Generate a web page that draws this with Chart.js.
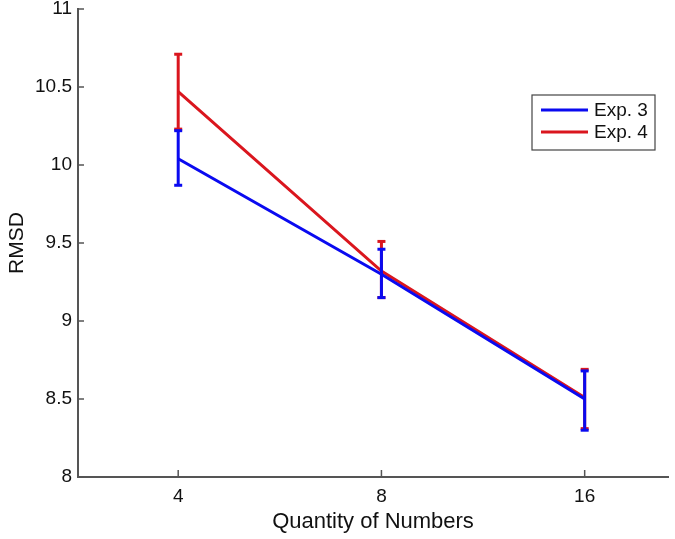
<!DOCTYPE html>
<html lang="en">
<head>
    <meta charset="UTF-8">
    <title>RMSD vs Quantity of Numbers</title>
    <script src="https://cdn.jsdelivr.net/npm/chart.js"></script>
    <style>
        body { margin: 0; background: #ffffff; }
        canvas { display: block; }
    </style>
</head>
<body>
    <canvas id="rmsdChart" width="675" height="539"></canvas>
    <script>
        // Values (mean and error bar ends)
        const categories = ['4', '8', '16'];
        const exp3Mean = [10.04, 9.30, 8.50];
        const exp3Low = [9.87, 9.15, 8.30];
        const exp3High = [10.22, 9.46, 8.68];
        const exp4Mean = [10.47, 9.32, 8.51];
        const exp4Low = [10.23, 9.15, 8.31];
        const exp4High = [10.71, 9.51, 8.69];
        const seriesNames = ['Exp. 3', 'Exp. 4'];

        const blue = 'rgb(10, 10, 240)';
        const red = 'rgb(218, 22, 30)';
        const axisColor = '#555555';
        const font = '"Liberation Sans", Arial, sans-serif';

        function meanLine(label, means, color) {
            return {
                label: label,
                data: means.map((v, i) => ({ x: i + 1, y: v })),
                borderColor: color,
                borderWidth: 3,
                pointRadius: 0,
                tension: 0
            };
        }

        function errorBars(lows, highs, color) {
            return lows.map((lo, i) => ({
                label: '',
                data: [{ x: i + 1, y: lo }, { x: i + 1, y: highs[i] }],
                borderColor: color,
                borderWidth: 3,
                pointStyle: 'line',
                pointRadius: 4,
                pointBorderWidth: 3,
                pointBorderColor: color
            }));
        }

        // first datasets are drawn on top, so blue goes first
        const datasets = [
            meanLine(seriesNames[0], exp3Mean, blue),
            ...errorBars(exp3Low, exp3High, blue),
            meanLine(seriesNames[1], exp4Mean, red),
            ...errorBars(exp4Low, exp4High, red)
        ];

        // inward tick marks like the original plot, plus the boxed legend
        const decorations = {
            id: 'decorations',
            beforeDatasetsDraw(chart) {
                const { ctx, chartArea, scales } = chart;
                ctx.save();
                ctx.strokeStyle = axisColor;
                ctx.lineWidth = 1.5;
                scales.x.ticks.forEach(t => {
                    const px = scales.x.getPixelForValue(t.value);
                    ctx.beginPath();
                    ctx.moveTo(px, chartArea.bottom);
                    ctx.lineTo(px, chartArea.bottom - 7);
                    ctx.stroke();
                });
                scales.y.ticks.forEach(t => {
                    const py = scales.y.getPixelForValue(t.value);
                    ctx.beginPath();
                    ctx.moveTo(chartArea.left, py);
                    ctx.lineTo(chartArea.left + 6, py);
                    ctx.stroke();
                });
                ctx.restore();
            },
            afterDraw(chart) {
                const { ctx } = chart;
                const box = { x: 532, y: 95, w: 123, h: 55 };
                ctx.save();
                ctx.fillStyle = '#ffffff';
                ctx.fillRect(box.x, box.y, box.w, box.h);
                ctx.strokeStyle = '#444444';
                ctx.lineWidth = 1.2;
                ctx.strokeRect(box.x, box.y, box.w, box.h);
                const colors = [blue, red];
                ctx.font = '19px ' + font;
                ctx.textBaseline = 'middle';
                seriesNames.forEach((name, i) => {
                    const y = box.y + 15 + i * 22;
                    ctx.strokeStyle = colors[i];
                    ctx.lineWidth = 3;
                    ctx.beginPath();
                    ctx.moveTo(box.x + 9, y);
                    ctx.lineTo(box.x + 56, y);
                    ctx.stroke();
                    ctx.fillStyle = '#111111';
                    ctx.fillText(name, box.x + 62, y + 1);
                });
                ctx.restore();
            }
        };

        const ctx = document.getElementById('rmsdChart').getContext('2d');
        const chart = new Chart(ctx, {
            type: 'line',
            data: { datasets: datasets },
            options: {
                responsive: false,
                animation: false,
                layout: { padding: { top: 9, right: 0, left: 0, bottom: 0 } },
                plugins: {
                    legend: { display: false },
                    tooltip: { enabled: false }
                },
                scales: {
                    x: {
                        type: 'linear',
                        min: 0.507,
                        max: 3.41,
                        afterBuildTicks: scale => {
                            scale.ticks = categories.map((c, i) => ({ value: i + 1 }));
                        },
                        afterFit: scale => {
                            scale.height = 62;
                            scale.paddingLeft = 0;
                            scale.paddingRight = 0;
                        },
                        ticks: {
                            callback: v => categories[v - 1],
                            font: { family: font, size: 19 },
                            color: '#111111',
                            padding: 8,
                            maxRotation: 0
                        },
                        grid: { drawOnChartArea: false, drawTicks: false },
                        border: { color: axisColor, width: 2 },
                        title: {
                            display: true,
                            text: 'Quantity of Numbers',
                            font: { family: font, size: 22 },
                            color: '#111111',
                            padding: { top: 0, bottom: 4 }
                        }
                    },
                    y: {
                        min: 8,
                        max: 11,
                        afterFit: scale => {
                            scale.width = 78;
                            scale.paddingTop = 0;
                            scale.paddingBottom = 0;
                        },
                        ticks: {
                            stepSize: 0.5,
                            callback: v => String(v),
                            font: { family: font, size: 19 },
                            color: '#111111',
                            padding: 6
                        },
                        grid: { drawOnChartArea: false, drawTicks: false },
                        border: { color: axisColor, width: 2 },
                        title: {
                            display: true,
                            text: 'RMSD',
                            font: { family: font, size: 21 },
                            color: '#111111',
                            padding: { top: 5, bottom: 0 }
                        }
                    }
                }
            },
            plugins: [decorations]
        });
    </script>
</body>
</html>
